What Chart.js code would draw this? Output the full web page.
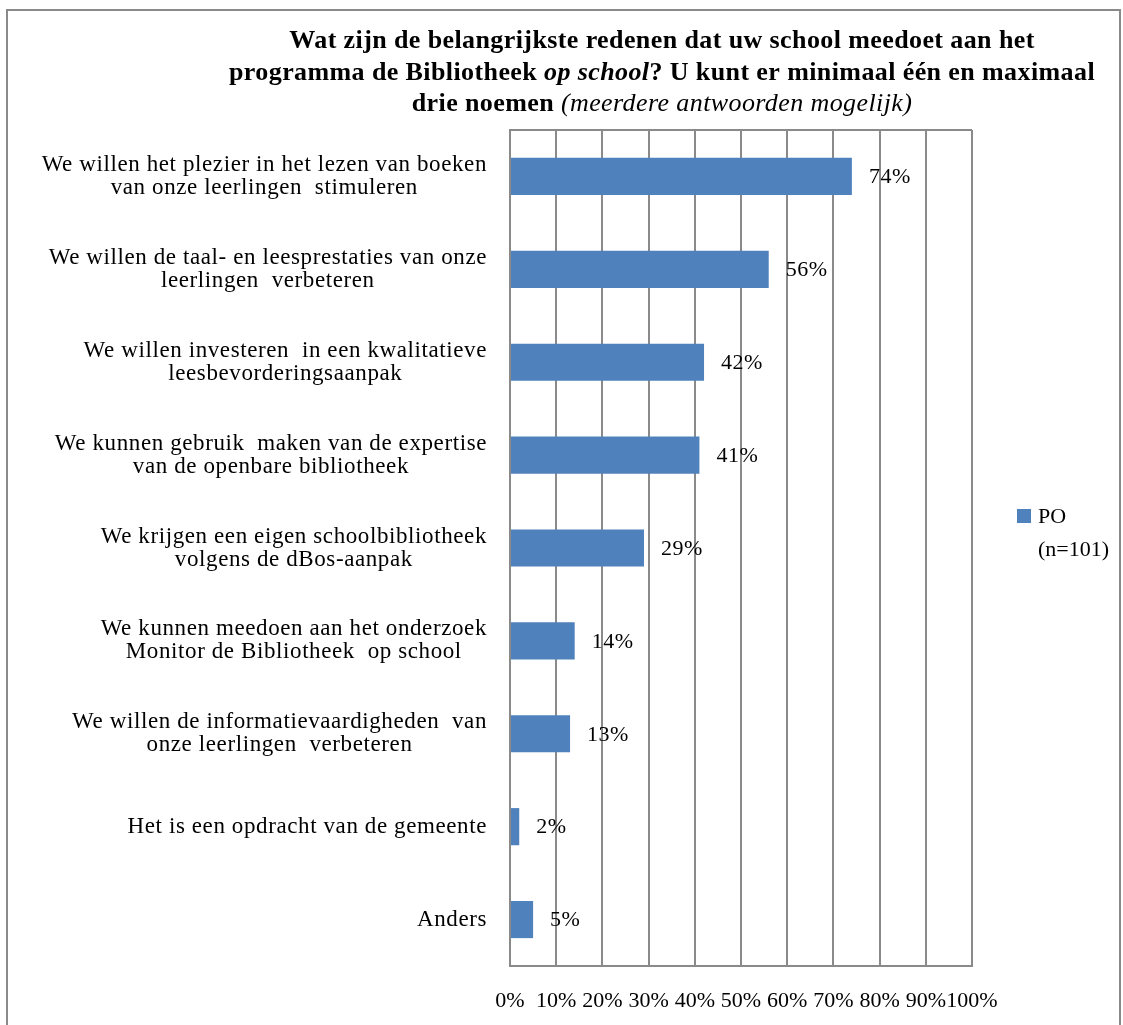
<!DOCTYPE html>
<html>
<head>
<meta charset="utf-8">
<script src="https://cdn.jsdelivr.net/npm/chart.js@4.4.0/dist/chart.umd.min.js"></script>
<style>
  html, body { margin: 0; padding: 0; background: #fff; }
  #wrap { width: 1123px; height: 1025px; }
</style>
</head>
<body>
<div id="wrap"><canvas id="chart" width="1123" height="1025"></canvas></div>
<script>
// categories (top to bottom), one array per label = its lines
const categories = [
  ['We willen het plezier in het lezen van boeken', 'van onze leerlingen  stimuleren'],
  ['We willen de taal- en leesprestaties van onze', 'leerlingen  verbeteren'],
  ['We willen investeren  in een kwalitatieve', 'leesbevorderingsaanpak'],
  ['We kunnen gebruik  maken van de expertise', 'van de openbare bibliotheek'],
  ['We krijgen een eigen schoolbibliotheek', 'volgens de dBos-aanpak'],
  ['We kunnen meedoen aan het onderzoek', 'Monitor de Bibliotheek  op school'],
  ['We willen de informatievaardigheden  van', 'onze leerlingen  verbeteren'],
  ['Het is een opdracht van de gemeente'],
  ['Anders']
];
const poValues = [74, 56, 42, 41, 29, 14, 13, 2, 5];
const seriesLabel = ['PO', '(n=101)'];
const xMin = 0, xMax = 100, xStep = 10;

// title lines, split in pieces because of bold / italic parts
const titleLines = [
  [['bold', 'Wat zijn de belangrijkste redenen dat uw school meedoet aan het']],
  [['bold', 'programma de Bibliotheek '], ['italic bold', 'op school'], ['bold', '? U kunt er minimaal één en maximaal']],
  [['bold', 'drie noemen '], ['italic', '(meerdere antwoorden mogelijk)']]
];

const FONT = '"Liberation Serif", "Times New Roman", serif';
const BAR = '#4F81BD';
const GRID = '#8a8a8a';

const decor = {
  id: 'decor',
  beforeDraw(chart) {
    const ctx = chart.ctx;
    ctx.save();
    ctx.strokeStyle = GRID;
    ctx.lineWidth = 2;
    ctx.strokeRect(7, 10, 1113, 1030);
    ctx.restore();
  },
  beforeDatasetsDraw(chart) {
    // top edge of the plot box
    const a = chart.chartArea, ctx = chart.ctx;
    ctx.save();
    ctx.strokeStyle = GRID;
    ctx.lineWidth = 2;
    ctx.beginPath();
    ctx.moveTo(a.left, a.top);
    ctx.lineTo(a.right, a.top);
    ctx.stroke();
    ctx.restore();
  },
  afterDatasetsDraw(chart) {
    const ctx = chart.ctx;
    const meta = chart.getDatasetMeta(0);
    ctx.save();
    ctx.fillStyle = '#000';
    ctx.font = '22px ' + FONT;
    ctx.letterSpacing = '0.5px';
    ctx.textAlign = 'left';
    ctx.textBaseline = 'middle';
    meta.data.forEach((bar, i) => {
      ctx.fillText(poValues[i] + '%', bar.x + 17, bar.y + 1);
    });
    ctx.restore();
  },
  afterDraw(chart) {
    const ctx = chart.ctx;
    const yScale = chart.scales.y;
    ctx.save();
    ctx.fillStyle = '#000';

    // category labels: block right aligned, lines centred in the block
    ctx.font = '23px ' + FONT;
    ctx.letterSpacing = '0.6px';
    ctx.textAlign = 'center';
    ctx.textBaseline = 'middle';
    const lineH = 23;
    categories.forEach((lines, i) => {
      const y = yScale.getPixelForTick(i);
      const w = Math.max(...lines.map(l => ctx.measureText(l).width));
      const cx = yScale.right - 23 - w / 2;
      lines.forEach((l, j) => {
        ctx.fillText(l, cx, y + (j - (lines.length - 1) / 2) * lineH);
      });
    });

    // title
    ctx.textAlign = 'left';
    ctx.textBaseline = 'alphabetic';
    ctx.letterSpacing = '0.4px';
    const baselines = [48, 80, 111];
    titleLines.forEach((parts, k) => {
      let total = 0;
      parts.forEach(p => { ctx.font = p[0] + ' 26px ' + FONT; total += ctx.measureText(p[1]).width; });
      let x = 662 - total / 2;
      parts.forEach(p => {
        ctx.font = p[0] + ' 26px ' + FONT;
        ctx.fillText(p[1], x, baselines[k]);
        x += ctx.measureText(p[1]).width;
      });
    });

    // legend
    ctx.letterSpacing = '0px';
    ctx.fillStyle = BAR;
    ctx.fillRect(1017, 509, 14, 14);
    ctx.fillStyle = '#000';
    ctx.font = '22px ' + FONT;
    ctx.textBaseline = 'middle';
    ctx.fillText(seriesLabel[0], 1038, 517);
    ctx.fillText(seriesLabel[1], 1038, 550);
    ctx.restore();
  }
};

new Chart(document.getElementById('chart'), {
  type: 'bar',
  data: {
    labels: categories,
    datasets: [{
      label: seriesLabel.join(' '),
      data: poValues,
      backgroundColor: BAR,
      borderWidth: 0,
      barPercentage: 0.40,
      categoryPercentage: 1.0
    }]
  },
  options: {
    indexAxis: 'y',
    responsive: false,
    animation: false,
    devicePixelRatio: 1,
    layout: {
      padding: { top: 130, right: 151, left: 0, bottom: 0 }
    },
    plugins: {
      legend: { display: false },
      title: { display: false },
      tooltip: { enabled: false }
    },
    scales: {
      x: {
        min: xMin,
        max: xMax,
        ticks: {
          stepSize: xStep,
          autoSkip: false,
          callback: v => v + '%',
          color: '#000',
          font: { family: FONT, size: 22 },
          padding: 22,
          maxRotation: 0,
          minRotation: 0
        },
        grid: { color: GRID, lineWidth: 2, drawTicks: false },
        border: { color: GRID, width: 2 },
        afterFit(scale) { scale.height = 59; }
      },
      y: {
        ticks: { display: false },
        grid: { display: false },
        border: { color: GRID, width: 2 },
        afterFit(scale) { scale.width = 510; }
      }
    }
  },
  plugins: [decor]
});
</script>
</body>
</html>
